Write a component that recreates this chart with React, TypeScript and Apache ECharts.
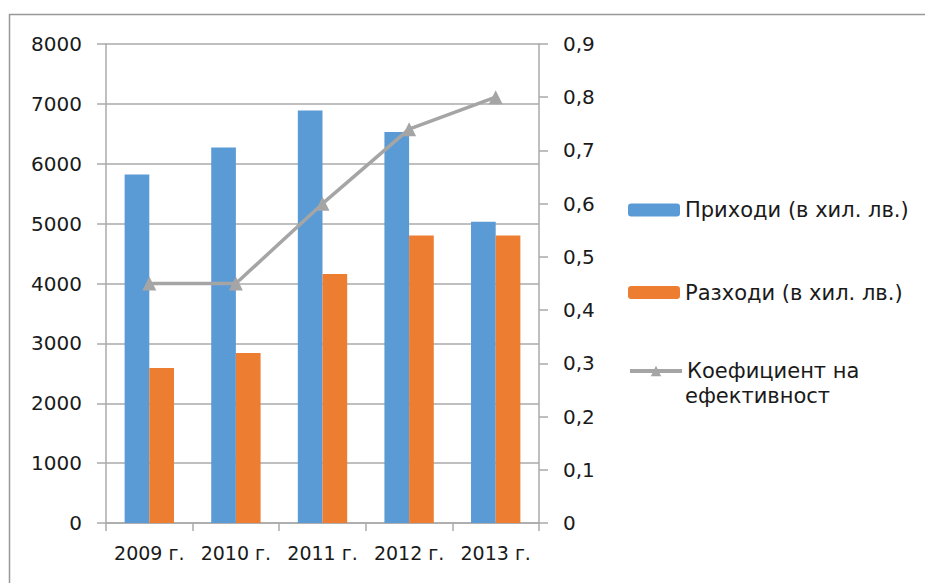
import React, { useEffect, useRef } from "react";
import * as echarts from "echarts";

const categories = ["2009 г.", "2010 г.", "2011 г.", "2012 г.", "2013 г."];
const incomeValues = [5820, 6270, 6890, 6530, 5030];
const expenseValues = [2590, 2840, 4160, 4800, 4800];
const efficiencyValues = [0.45, 0.45, 0.6, 0.74, 0.8];
const incomeName = "Приходи (в хил. лв.)";
const expenseName = "Разходи (в хил. лв.)";
const efficiencyName = "Коефициент на ефективност";
const efficiencyLine1 = "Коефициент на";
const efficiencyLine2 = "ефективност";

const FONT = "DejaVu Sans";
const TXT = "#1a1a1a";
const GRID = "#aaaaaa";

export default function App() {
  const ref = useRef<HTMLDivElement>(null);
  useEffect(() => {
    if (!ref.current) return;
    const chart = echarts.init(ref.current, undefined, { renderer: "svg" });
    const legendBase = {
      orient: "vertical",
      padding: 0,
      itemWidth: 52,
      itemHeight: 13,
      textStyle: { fontFamily: FONT, fontSize: 21, color: TXT },
      selectedMode: false,
    };
    chart.setOption({
      animation: false,
      backgroundColor: "#fff",
      textStyle: { fontFamily: FONT },
      graphic: [
        {
          type: "polyline",
          shape: { points: [[9.5, 583], [9.5, 14.5], [925, 14.5]] },
          style: { stroke: "#999", lineWidth: 1.5, fill: "none" },
        },
        {
          type: "text",
          left: 685,
          top: 385,
          style: { text: efficiencyLine2, fontFamily: FONT, fontSize: 21, fill: TXT },
        },
      ],
      legend: [
        { ...legendBase, left: 628, top: 199.5, data: [incomeName] },
        { ...legendBase, left: 628, top: 282, data: [expenseName] },
        {
          ...legendBase,
          left: 628,
          top: 360.5,
          data: [efficiencyName],
          formatter: () => efficiencyLine1,
          lineStyle: { width: 4, color: "#A5A5A5" },
          itemStyle: { color: "#A5A5A5" },
        },
      ],
      grid: { left: 106, right: 386, top: 44, bottom: 60 },
      xAxis: {
        type: "category",
        data: categories,
        axisLine: { lineStyle: { color: GRID, width: 1.5 } },
        axisTick: { show: true, length: 8, lineStyle: { color: GRID, width: 1.5 } },
        axisLabel: { fontFamily: FONT, fontSize: 19, color: TXT, margin: 20, interval: 0 },
      },
      yAxis: [
        {
          type: "value",
          min: 0,
          max: 8000,
          interval: 1000,
          axisLine: { show: true, lineStyle: { color: GRID, width: 1.5 } },
          axisTick: { show: true, length: 9, lineStyle: { color: GRID, width: 1.5 } },
          splitLine: { show: true, lineStyle: { color: GRID, width: 1.5 } },
          axisLabel: {
            fontFamily: FONT,
            fontSize: 20,
            color: TXT,
            margin: 24,
            formatter: (v: number) => String(v),
          },
        },
        {
          type: "value",
          min: 0,
          max: 0.9,
          interval: 0.1,
          position: "right",
          axisLine: { show: true, lineStyle: { color: GRID, width: 1.5 } },
          axisTick: { show: true, length: 9, lineStyle: { color: GRID, width: 1.5 } },
          splitLine: { show: false },
          axisLabel: {
            fontFamily: FONT,
            fontSize: 20,
            color: TXT,
            margin: 24,
            formatter: (v: number) => (v === 0 ? "0" : v.toFixed(1).replace(".", ",")),
          },
        },
      ],
      series: [
        {
          name: incomeName,
          type: "bar",
          data: incomeValues,
          itemStyle: { color: "#5B9BD5" },
          barGap: "0%",
          barCategoryGap: "43%",
        },
        {
          name: expenseName,
          type: "bar",
          data: expenseValues,
          itemStyle: { color: "#ED7D31" },
        },
        {
          name: efficiencyName,
          type: "line",
          yAxisIndex: 1,
          data: efficiencyValues,
          symbol: "triangle",
          symbolSize: 14,
          lineStyle: { color: "#A5A5A5", width: 3.5 },
          itemStyle: { color: "#A5A5A5" },
        },
      ],
    });
    return () => chart.dispose();
  }, []);
  return (
    <div
      ref={ref}
      style={{ position: "fixed", left: 0, top: 0, width: 925, height: 583 }}
    />
  );
}
